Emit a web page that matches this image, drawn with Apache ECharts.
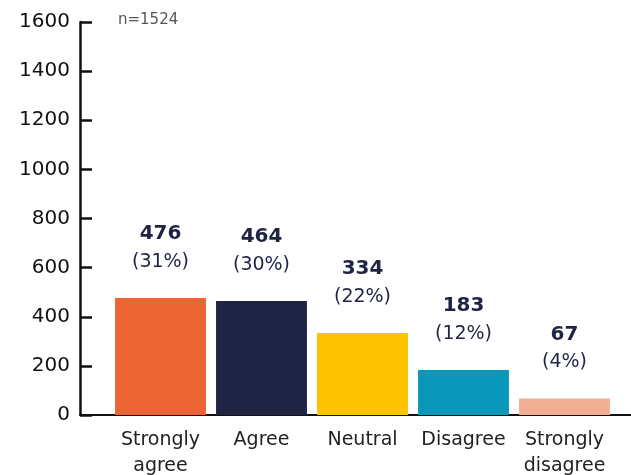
<!DOCTYPE html>
<html>
<head>
<meta charset="utf-8">
<script src="https://cdn.jsdelivr.net/npm/echarts@6/dist/echarts.min.js"></script>
<style>
  html, body { margin: 0; padding: 0; background: #fff; }
  #chart { width: 631px; height: 475px; }
</style>
</head>
<body>
<div id="chart"></div>
<script>
const categories = ['Strongly\nagree', 'Agree', 'Neutral', 'Disagree', 'Strongly\ndisagree']
const counts = [476, 464, 334, 183, 67]
const percents = [31, 30, 22, 12, 4]
const barColors = ['#EC6532', '#1F2444', '#FDC300', '#0A97B9', '#F2AF94']
const yTicks = { min: 0, max: 1600, interval: 200 }
const sampleNote = 'n=1524'

const fontName = '"DejaVu Sans", sans-serif'
const chart = echarts.init(document.getElementById('chart'))

const option = {
  animation: false,
  backgroundColor: '#fff',
  textStyle: { fontFamily: fontName },
  grid: [
    // axis frame
    { left: 80, right: 0, top: 22, bottom: 60, outerBoundsMode: 'none' },
    // bars
    { left: 110, right: 16, top: 22, bottom: 60, outerBoundsMode: 'none' }
  ],
  graphic: [
    {
      type: 'text',
      left: 118,
      top: 13,
      style: { text: sampleNote, fontSize: 15, fill: '#555', fontFamily: fontName }
    }
  ],
  xAxis: [
    {
      gridIndex: 0,
      type: 'value',
      min: 0,
      max: 1,
      axisLine: { show: true, lineStyle: { color: '#111', width: 2 } },
      axisTick: { show: false },
      axisLabel: { show: false },
      splitLine: { show: false }
    },
    {
      gridIndex: 1,
      type: 'category',
      data: categories,
      axisLine: { show: false },
      axisTick: { show: false },
      axisLabel: {
        interval: 0,
        hideOverlap: false,
        color: '#222',
        fontSize: 19,
        lineHeight: 26,
        margin: 12,
        fontFamily: fontName
      }
    }
  ],
  yAxis: [
    {
      gridIndex: 0,
      type: 'value',
      min: yTicks.min,
      max: yTicks.max,
      interval: yTicks.interval,
      axisLine: { show: true, lineStyle: { color: '#111', width: 2.5 } },
      axisTick: { show: true, inside: true, length: 12, lineStyle: { color: '#111', width: 2.5 } },
      axisLabel: { color: '#111', fontSize: 20, margin: 10, fontFamily: fontName, formatter: (v) => String(v) },
      splitLine: { show: false }
    },
    {
      gridIndex: 1,
      type: 'value',
      min: yTicks.min,
      max: yTicks.max,
      show: false
    }
  ],
  series: [
    {
      type: 'bar',
      xAxisIndex: 1,
      yAxisIndex: 1,
      barCategoryGap: '10%',
      data: counts.map((v, i) => ({
        value: v,
        itemStyle: { color: barColors[i] }
      })),
      label: {
        show: true,
        position: 'top',
        distance: 22,
        formatter: (p) => `{num|${p.value}}\n{pct|(${percents[p.dataIndex]}%)}`,
        rich: {
          num: { fontSize: 20, fontWeight: 'bold', color: '#1F2444', lineHeight: 28, fontFamily: fontName },
          pct: { fontSize: 19, color: '#1F2444', lineHeight: 28, fontFamily: fontName }
        }
      }
    }
  ]
}

chart.setOption(option)
</script>
</body>
</html>
